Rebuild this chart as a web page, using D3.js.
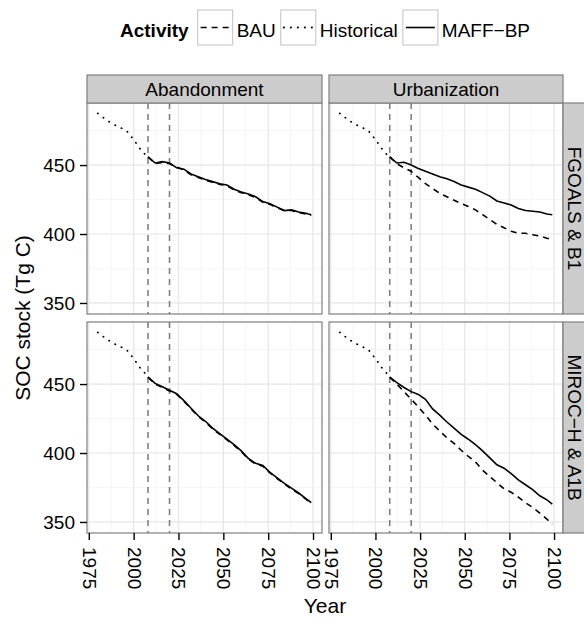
<!DOCTYPE html>
<html>
<head>
<meta charset="utf-8">
<script src="https://cdn.jsdelivr.net/npm/d3@7"></script>
<style>
body { margin: 0; background: #fff; }
text { font-family: "Liberation Sans", Arial, sans-serif; fill: #000; }
</style>
</head>
<body>
<div id="chart"></div>
<script>
// legend / facet labels
const activities = ["BAU", "Historical", "MAFF\u2212BP"];
const landUses = ["Abandonment", "Urbanization"];
const scenarios = ["FGOALS & B1", "MIROC\u2212H & A1B"];

// axis ticks
const xTicks = [1975, 2000, 2025, 2050, 2075, 2100];
const yTicks = [350, 400, 450];
const policyYears = [2008, 2020];

// historical (same in every panel)
const histYears = [1980, 1984, 1988, 1992, 1996, 2000, 2004, 2008];
const histSOC = [487.5, 483.5, 480, 477.5, 475, 468.5, 461, 455.5];

// projections
const projYears = [2008, 2012, 2016, 2020, 2024, 2028, 2032, 2036, 2040, 2044, 2048, 2052,
                   2056, 2060, 2064, 2068, 2072, 2076, 2080, 2084, 2088, 2092, 2096, 2099];
const fgAbanMAFF = [456, 451.5, 452.5, 451.5, 448, 447, 443.5, 441.5, 439.5, 438, 436.5, 435.5,
                    432.5, 430.5, 429, 427, 423.5, 422, 419.5, 417, 417.5, 416, 415, 414];
const fgAbanBAU  = [456, 451, 452, 451, 448.5, 446.5, 443, 441, 439, 437.5, 436, 435,
                    432, 430, 428.5, 426.5, 423, 421.5, 419, 417, 417, 415.5, 414.5, 413.5];
const fgUrbMAFF  = [456, 451.5, 452, 450, 447.5, 445.5, 443.5, 441.5, 440, 438, 435.5, 434,
                    432.5, 430, 427.5, 424, 422.5, 421, 418.5, 417, 416.5, 416, 414.5, 414];
const fgUrbBAU   = [456, 451, 448, 445.5, 441, 436.5, 433, 429.5, 427, 424.5, 422, 420,
                    417.5, 414, 410.5, 407, 404.5, 402, 400.5, 400.5, 399.5, 398.5, 397, 396];
const miAbanMAFF = [455, 450.5, 448, 445.5, 443, 438, 432.5, 427, 423, 418, 414, 410,
                    406, 401.5, 396, 392.5, 391, 386, 382, 378, 374.5, 371, 367, 364];
const miAbanBAU  = [455, 450, 447.5, 445, 442.5, 437.5, 432, 426.5, 422.5, 417.5, 413.5, 409.5,
                    405.5, 401, 395.5, 392, 390.5, 385.5, 381.5, 377.5, 374, 370.5, 366.5, 363.5];
const miUrbMAFF  = [455, 451, 447.5, 444.5, 442.5, 439, 432, 427.5, 422.5, 418, 413.5, 410,
                    406, 401.5, 396.5, 391.5, 389, 385, 380.5, 377, 373.5, 369, 366, 363];
const miUrbBAU   = [455, 450, 444.5, 439, 433.5, 427.5, 421, 416, 411, 407, 402, 397.5,
                    393.5, 387.5, 383, 378.5, 374, 371.5, 368, 364, 360.5, 356.5, 352, 348.5];

const panelSeries = [
    [{bau: fgAbanBAU, maff: fgAbanMAFF}, {bau: fgUrbBAU, maff: fgUrbMAFF}],
    [{bau: miAbanBAU, maff: miAbanMAFF}, {bau: miUrbBAU, maff: miUrbMAFF}]
];

const dashStyle = {"BAU": "6,5", "Historical": "0.3,6.7", "MAFF\u2212BP": null};

function main() {
    const width = 584, height = 618;
    const colX = [[87, 322], [329, 563]];
    const rowY = [[103, 314], [322, 533]];
    const stripH = 28, stripW = 27;
    const fs = 19;

    const svg = d3.select("#chart").append("svg")
        .attr("width", width)
        .attr("height", height);

    const line = d3.line();

    rowY.forEach(function(ry, r) {
        colX.forEach(function(cx, c) {
            const x = d3.scaleLinear().domain([1974, 2105]).range(cx);
            const y = d3.scaleLinear().domain([342, 495]).range([ry[1], ry[0]]);
            const g = svg.append("g");

            g.append("rect")
                .attr("x", cx[0]).attr("y", ry[0])
                .attr("width", cx[1] - cx[0]).attr("height", ry[1] - ry[0])
                .attr("fill", "#fff");

            // minor grid
            const xMinor = xTicks.slice(0, -1).map(function(t) { return t + 12.5; });
            const yMinor = [375, 425, 475];
            g.selectAll(".xminor").data(xMinor).enter().append("line")
                .attr("x1", d => x(d)).attr("x2", d => x(d))
                .attr("y1", ry[0]).attr("y2", ry[1])
                .attr("stroke", "#f5f5f5").attr("stroke-width", 1);
            g.selectAll(".yminor").data(yMinor).enter().append("line")
                .attr("y1", d => y(d)).attr("y2", d => y(d))
                .attr("x1", cx[0]).attr("x2", cx[1])
                .attr("stroke", "#f5f5f5").attr("stroke-width", 1);
            // major grid
            g.selectAll(".xmajor").data(xTicks).enter().append("line")
                .attr("x1", d => x(d)).attr("x2", d => x(d))
                .attr("y1", ry[0]).attr("y2", ry[1])
                .attr("stroke", "#e6e6e6").attr("stroke-width", 1.2);
            g.selectAll(".ymajor").data(yTicks).enter().append("line")
                .attr("y1", d => y(d)).attr("y2", d => y(d))
                .attr("x1", cx[0]).attr("x2", cx[1])
                .attr("stroke", "#e6e6e6").attr("stroke-width", 1.2);

            // policy years
            g.selectAll(".vline").data(policyYears).enter().append("line")
                .attr("x1", d => x(d)).attr("x2", d => x(d))
                .attr("y1", ry[0]).attr("y2", ry[1])
                .attr("stroke", "#808080").attr("stroke-width", 1.6)
                .attr("stroke-dasharray", "6,5");

            // series
            const s = panelSeries[r][c];
            const bauPts = projYears.map((yr, i) => [x(yr), y(s.bau[i])]);
            const maffPts = projYears.map((yr, i) => [x(yr), y(s.maff[i])]);
            const histPts = histYears.map((yr, i) => [x(yr), y(histSOC[i])]);

            g.append("path").attr("d", line(bauPts))
                .attr("fill", "none").attr("stroke", "#000").attr("stroke-width", 1.6)
                .attr("stroke-dasharray", dashStyle["BAU"]);
            g.append("path").attr("d", line(histPts))
                .attr("fill", "none").attr("stroke", "#000").attr("stroke-width", 1.8)
                .attr("stroke-linecap", "round")
                .attr("stroke-dasharray", dashStyle["Historical"]);
            g.append("path").attr("d", line(maffPts))
                .attr("fill", "none").attr("stroke", "#000").attr("stroke-width", 1.6);

            // border
            g.append("rect")
                .attr("x", cx[0]).attr("y", ry[0])
                .attr("width", cx[1] - cx[0]).attr("height", ry[1] - ry[0])
                .attr("fill", "none").attr("stroke", "#7f7f7f").attr("stroke-width", 1.2);

            // top strips
            if (r === 0) {
                g.append("rect")
                    .attr("x", cx[0]).attr("y", ry[0] - stripH)
                    .attr("width", cx[1] - cx[0]).attr("height", stripH)
                    .attr("fill", "#cccccc").attr("stroke", "#7f7f7f").attr("stroke-width", 1.2);
                g.append("text")
                    .attr("x", (cx[0] + cx[1]) / 2).attr("y", ry[0] - 7)
                    .attr("text-anchor", "middle")
                    .style("font-size", fs + "px")
                    .text(landUses[c]);
            }
            // right strips
            if (c === 1) {
                g.append("rect")
                    .attr("x", cx[1]).attr("y", ry[0])
                    .attr("width", stripW).attr("height", ry[1] - ry[0])
                    .attr("fill", "#cccccc").attr("stroke", "#7f7f7f").attr("stroke-width", 1.2);
                const tx = cx[1] + 4.5, ty = (ry[0] + ry[1]) / 2;
                g.append("text")
                    .attr("x", tx).attr("y", ty)
                    .attr("text-anchor", "middle")
                    .attr("transform", `rotate(90, ${tx}, ${ty})`)
                    .style("font-size", fs + "px")
                    .text(scenarios[r]);
            }
            // y axis
            if (c === 0) {
                const ax = g.append("g")
                    .attr("transform", `translate(${cx[0]}, 0)`)
                    .call(d3.axisLeft(y).tickValues(yTicks).tickSize(7).tickPadding(5));
                ax.select(".domain").remove();
                ax.selectAll(".tick line").attr("stroke", "#000").attr("stroke-width", 1.4);
                ax.selectAll(".tick text").style("font-size", fs + "px")
                    .style("font-family", '"Liberation Sans", Arial, sans-serif');
            }
            // x axis
            if (r === 1) {
                const ax = g.append("g")
                    .attr("transform", `translate(0, ${ry[1]})`)
                    .call(d3.axisBottom(x).tickValues(xTicks).tickSize(7).tickFormat(d3.format("d")));
                ax.select(".domain").remove();
                ax.selectAll(".tick line").attr("stroke", "#000").attr("stroke-width", 1.4);
                ax.selectAll(".tick text")
                    .attr("y", 0).attr("x", 0).attr("dy", null)
                    .attr("text-anchor", "start")
                    .attr("dominant-baseline", "central")
                    .attr("transform", "translate(0, 14) rotate(90)")
                    .style("font-size", fs + "px")
                    .style("font-family", '"Liberation Sans", Arial, sans-serif');
            }
        });
    });

    // axis titles
    const midX = (colX[0][0] + colX[1][1]) / 2;
    const midY = (rowY[0][0] + rowY[1][1]) / 2;
    svg.append("text")
        .attr("x", midX).attr("y", 613)
        .attr("text-anchor", "middle")
        .style("font-size", "21px")
        .text("Year");
    svg.append("text")
        .attr("transform", `translate(30, ${midY}) rotate(-90)`)
        .attr("text-anchor", "middle")
        .style("font-size", "21px")
        .text("SOC stock (Tg C)");

    // legend
    const leg = svg.append("g");
    const keySize = 35, ly = 10;
    let lx = 0;
    const title = leg.append("text")
        .attr("x", lx).attr("y", 36.5)
        .style("font-size", fs + "px").style("font-weight", "bold")
        .text("Activity");
    lx += title.node().getComputedTextLength() + 9;
    activities.forEach(function(a) {
        leg.append("rect")
            .attr("x", lx).attr("y", ly)
            .attr("width", keySize).attr("height", keySize)
            .attr("fill", "#fff").attr("stroke", "#cccccc").attr("stroke-width", 1.2);
        leg.append("line")
            .attr("x1", lx + 3).attr("x2", lx + keySize - 3)
            .attr("y1", ly + keySize / 2).attr("y2", ly + keySize / 2)
            .attr("stroke", "#000").attr("stroke-width", a === "Historical" ? 1.8 : 1.6)
            .attr("stroke-linecap", a === "Historical" ? "round" : "butt")
            .attr("stroke-dasharray", dashStyle[a]);
        lx += keySize + 4;
        const t = leg.append("text")
            .attr("x", lx).attr("y", 36.5)
            .style("font-size", fs + "px")
            .text(a);
        lx += t.node().getComputedTextLength() + 5;
    });
    leg.attr("transform", `translate(${midX - (lx - 5) / 2}, 0)`);
}

main();
</script>
</body>
</html>
